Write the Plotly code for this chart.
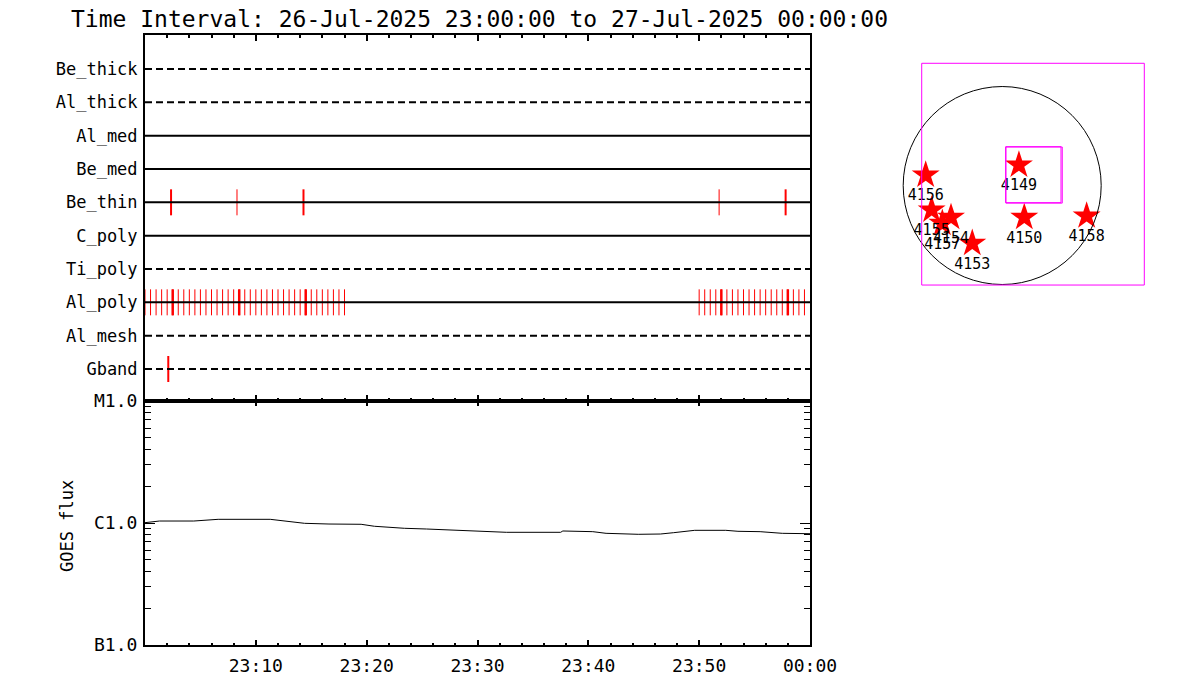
import plotly.graph_objects as go

# ---------------- data ----------------
ROW_NAMES = ["Be_thick", "Al_thick", "Al_med", "Be_med", "Be_thin",
             "C_poly", "Ti_poly", "Al_poly", "Al_mesh", "Gband"]
ROW_DASHED = [True, True, False, False, False, False, True, False, True, True]

# exposure times (minutes after 23:00)
BE_THIN_T = [2.35, 8.3, 14.3, 51.8, 57.8]
BE_THIN_W = [2, 1, 2, 1, 2]
AL_POLY_T = [0.0, 0.5, 1.0, 1.5, 2.0, 2.5, 3.0, 3.5, 4.0, 4.5, 5.0, 5.5, 6.0, 6.5,
             7.0, 7.5, 8.0, 8.5, 9.0, 9.5, 10.0, 10.5, 11.0, 11.5, 12.0, 12.5,
             13.0, 13.5, 14.0, 14.5, 15.0, 15.5, 16.0, 16.5, 17.0, 17.5, 18.0,
             50.0, 50.5, 51.0, 51.5, 52.0, 52.5, 53.0, 53.5, 54.0, 54.5, 55.0,
             55.5, 56.0, 56.5, 57.0, 57.5, 58.0, 58.5, 59.0, 59.5]
AL_POLY_THICK_T = [2.5, 8.5, 14.5, 52.0, 58.0]
GBAND_T = [2.1]

# GOES flux (minutes after 23:00, W/m^2)
GOES_T = [0.0, 1.3, 4.4, 6.6, 11.3, 12.4, 14.4, 16.6, 19.5, 20.7, 23.4, 25.4,
          27.5, 30.4, 32.6, 37.5, 37.7, 40.4, 41.6, 44.5, 46.5, 47.7, 49.6,
          52.4, 53.5, 55.5, 57.5, 60.0]
GOES_F = [1.006e-6, 1.038e-6, 1.038e-6, 1.072e-6, 1.072e-6, 1.044e-6, 0.994e-6,
          0.981e-6, 0.976e-6, 0.940e-6, 0.905e-6, 0.893e-6, 0.877e-6, 0.860e-6,
          0.839e-6, 0.839e-6, 0.860e-6, 0.849e-6, 0.823e-6, 0.808e-6, 0.812e-6,
          0.833e-6, 0.871e-6, 0.871e-6, 0.855e-6, 0.849e-6, 0.823e-6, 0.817e-6]

X_TICKS = [10, 20, 30, 40, 50, 60]
X_TICKTEXT = ["23:10", "23:20", "23:30", "23:40", "23:50", "00:00"]
Y_TICKS = [1e-7, 1e-6, 1e-5]
Y_TICKTEXT = ["B1.0", "C1.0", "M1.0"]
Y_MINOR = [2e-7, 3e-7, 4e-7, 5e-7, 6e-7, 7e-7, 8e-7, 9e-7,
           2e-6, 3e-6, 4e-6, 5e-6, 6e-6, 7e-6, 8e-6, 9e-6]

# active regions (arcsec)
AR_NUM = ["4149", "4156", "4155", "4154", "4157", "4153", "4150", "4158"]
AR_X = [160, -731, -674, -489, -572, -286, 211, 807]
AR_Y = [196, 100, -234, -304, -361, -552, -304, -291]
R_SUN = 946

TITLE = "Time Interval: 26-Jul-2025 23:00:00 to 27-Jul-2025 00:00:00"

# ---------------- figure ----------------
W, H = 1200, 700
FONT = "DejaVu Sans Mono"
OFF = 8  # page body margin


def px(p):
    return (p - OFF) / W


def py(p):
    return 1 - (p - OFF) / H


n = len(ROW_NAMES)
row_y = {name: n - i for i, name in enumerate(ROW_NAMES)}
HALF = 0.39

fig = go.Figure()


def add_ticks(times, yrow, width, color="red"):
    xs, ys = [], []
    for t in times:
        xs += [t, t, None]
        ys += [yrow - HALF, yrow + HALF, None]
    fig.add_trace(go.Scatter(x=xs, y=ys, mode="lines", xaxis="x", yaxis="y",
                             line=dict(color=color, width=width),
                             hoverinfo="skip", showlegend=False))


# exposure ticks
for w in sorted(set(BE_THIN_W)):
    add_ticks([t for t, ww in zip(BE_THIN_T, BE_THIN_W) if ww == w], row_y["Be_thin"], w)
add_ticks(AL_POLY_T, row_y["Al_poly"], 1)
add_ticks(AL_POLY_THICK_T, row_y["Al_poly"], 2.5)
add_ticks(GBAND_T, row_y["Gband"], 2)

# row lines
for name, dashed in zip(ROW_NAMES, ROW_DASHED):
    fig.add_trace(go.Scatter(x=[0, 60], y=[row_y[name]] * 2, mode="lines",
                             xaxis="x", yaxis="y",
                             line=dict(color="black", width=2,
                                       dash="7px,4px" if dashed else "solid"),
                             hoverinfo="skip", showlegend=False))

# GOES curve
fig.add_trace(go.Scatter(x=GOES_T, y=GOES_F, mode="lines", xaxis="x2", yaxis="y2",
                         line=dict(color="black", width=1), showlegend=False))

# map
fig.add_trace(go.Scatter(x=AR_X, y=AR_Y, mode="markers+text", xaxis="x3", yaxis="y3",
                         text=AR_NUM, textposition="bottom center",
                         textfont=dict(family=FONT, size=15, color="black"),
                         marker=dict(symbol="star", size=21, color="red",
                                     line=dict(width=0)),
                         showlegend=False))

top_dom_x = [px(145), px(810)]
axis_common = dict(showline=True, linecolor="black", linewidth=2, mirror="ticks",
                   zeroline=False, showgrid=False, automargin=False)

fig.update_layout(
    width=W, height=H, margin=dict(l=0, r=0, t=0, b=0, pad=0),
    paper_bgcolor="white", plot_bgcolor="white",
    font=dict(family=FONT, color="black"),
    xaxis=dict(domain=top_dom_x, anchor="y", range=[0, 60], tickmode="array",
               tickvals=[0] + X_TICKS, ticks="inside", ticklen=6, tickwidth=2,
               tickcolor="black", showticklabels=False,
               minor=dict(dtick=2, tick0=0, ticks="inside", ticklen=3, tickwidth=2,
                          tickcolor="black"),
               **axis_common),
    yaxis=dict(domain=[py(401), py(35)], anchor="x", range=[0.04, 11.02],
               tickmode="array", tickvals=[row_y[nm] for nm in ROW_NAMES],
               ticktext=ROW_NAMES, ticks="", tickfont=dict(size=17),
               ticklabelstandoff=2,
               **axis_common),
    xaxis2=dict(domain=top_dom_x, anchor="y2", range=[0, 60], tickmode="array",
                tickvals=[0] + X_TICKS, ticktext=[""] + X_TICKTEXT,
                ticks="inside", ticklen=5, tickwidth=2, tickcolor="black",
                tickfont=dict(size=18), ticklabelstandoff=3,
                minor=dict(dtick=2, tick0=0, ticks="inside", ticklen=2, tickwidth=2,
                           tickcolor="black"),
                **axis_common),
    yaxis2=dict(domain=[py(645), py(401)], anchor="x2", type="log", range=[-7, -5],
                tickmode="array", tickvals=Y_TICKS, ticktext=Y_TICKTEXT,
                ticks="inside", ticklen=10, tickwidth=1, tickcolor="black",
                tickfont=dict(size=18), ticklabelstandoff=2,
                minor=dict(tickmode="array", tickvals=Y_MINOR, ticks="inside",
                           ticklen=6, tickwidth=1, tickcolor="black"),
                **axis_common),
    xaxis3=dict(domain=[px(890), px(1160)], anchor="y3", range=[-1072, 1508],
                visible=False, automargin=False),
    yaxis3=dict(domain=[py(300), py(50)], anchor="x3", range=[-1094, 1295],
                visible=False, automargin=False),
    annotations=[
        dict(text=TITLE, x=px(69), y=py(19), xref="paper", yref="paper",
             xanchor="left", yanchor="middle", showarrow=False,
             font=dict(size=23, family=FONT)),
        dict(text="GOES flux", x=px(67), y=py(526), xref="paper", yref="paper",
             xanchor="center", yanchor="middle", showarrow=False, textangle=-90,
             font=dict(size=17, family=FONT)),
    ],
    shapes=[
        dict(type="circle", xref="x3", yref="y3", x0=-R_SUN, x1=R_SUN,
             y0=-R_SUN, y1=R_SUN, line=dict(color="black", width=1)),
        dict(type="rect", xref="x3", yref="y3", x0=-769, x1=1358, y0=-951, y1=1168,
             line=dict(color="magenta", width=1)),
        dict(type="rect", xref="x3", yref="y3", x0=33, x1=562, y0=-164, y1=371,
             line=dict(color="magenta", width=1)),
        dict(type="rect", xref="x3", yref="y3", x0=36, x1=574, y0=-168, y1=368,
             line=dict(color="magenta", width=1)),
    ],
)

fig.write_html("out.html")
